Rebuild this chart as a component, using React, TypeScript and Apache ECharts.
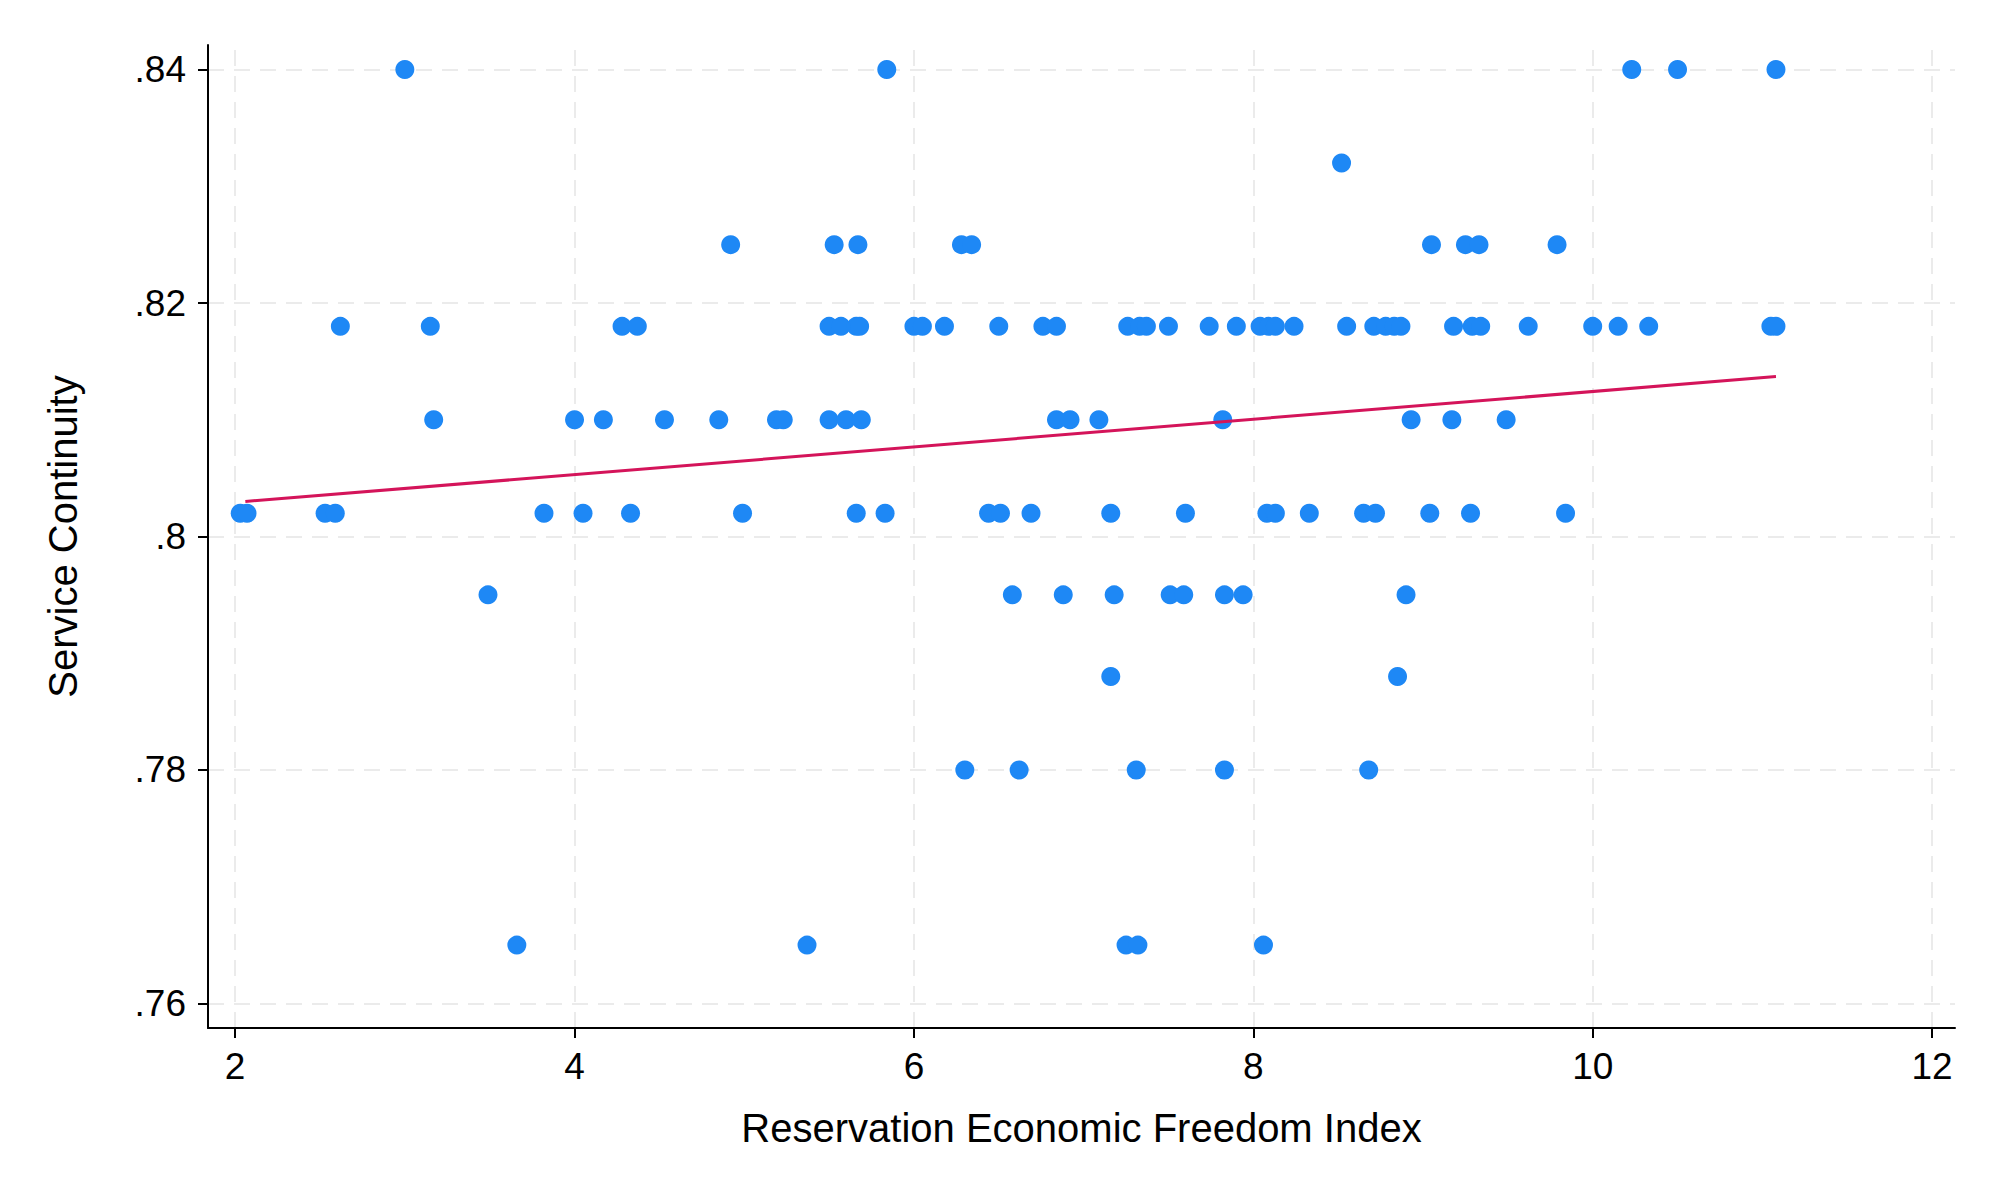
import React, { useEffect, useRef } from 'react';
import * as echarts from 'echarts';

// points grouped by service-continuity level
const lvl840 = [3.0, 5.84, 10.23, 10.5, 11.08];
const lvl832 = [8.52];
const lvl825 = [4.92, 5.53, 5.67, 6.28, 6.34, 9.05, 9.25, 9.33, 9.79];
const lvl818 = [2.62, 3.15, 4.28, 4.37, 5.5, 5.57, 5.66, 5.68, 6.0, 6.05, 6.18, 6.5, 6.76, 6.84, 7.26, 7.33, 7.37, 7.5, 7.74, 7.9, 8.04, 8.09, 8.13, 8.24, 8.55, 8.71, 8.78, 8.83, 8.87, 9.18, 9.29, 9.34, 9.62, 10.0, 10.15, 10.33, 11.05, 11.08];
const lvl810 = [3.17, 4.0, 4.17, 4.53, 4.85, 5.19, 5.23, 5.5, 5.6, 5.69, 6.84, 6.92, 7.09, 7.82, 8.93, 9.17, 9.49];
const lvl802 = [2.03, 2.07, 2.53, 2.59, 3.82, 4.05, 4.33, 4.99, 5.66, 5.83, 6.44, 6.51, 6.69, 7.16, 7.6, 8.08, 8.13, 8.33, 8.65, 8.72, 9.04, 9.28, 9.84];
const lvl795 = [3.49, 6.58, 6.88, 7.18, 7.51, 7.59, 7.83, 7.94, 8.9];
const lvl788 = [7.16, 8.85];
const lvl780 = [6.3, 6.62, 7.31, 7.83, 8.68];
const lvl765 = [3.66, 5.37, 7.25, 7.32, 8.06];

const levels: [number, number[]][] = [
  [0.84, lvl840], [0.832, lvl832], [0.825, lvl825], [0.818, lvl818], [0.81, lvl810],
  [0.802, lvl802], [0.795, lvl795], [0.788, lvl788], [0.78, lvl780], [0.765, lvl765],
];

const fitLine = [[2.06, 0.803], [11.08, 0.8137]];
const xTicks = [2, 4, 6, 8, 10, 12];
const yTicks = [0.76, 0.78, 0.8, 0.82, 0.84];

const App: React.FC = () => {
  const chartRef = useRef<HTMLDivElement | null>(null);

  useEffect(() => {
    document.body.style.margin = '0';
    let chart: echarts.ECharts | null = null;
    if (chartRef.current) {
      chart = echarts.init(chartRef.current, null, { renderer: 'svg' });
      const points: number[][] = [];
      levels.forEach(([y, xs]) => xs.forEach((x) => points.push([x, y])));
      const font = 'Liberation Sans, Arial, sans-serif';
      const gridStyle = { color: '#ebebeb', width: 2, type: [16, 10] as any };

      const option = {
        animation: false,
        backgroundColor: '#fff',
        grid: { left: 208, right: 45, top: 45, bottom: 172 },
        xAxis: {
          type: 'value', min: 1.84, max: 12.135,
          name: 'Reservation Economic Freedom Index', nameLocation: 'middle', nameGap: 80,
          nameTextStyle: { fontSize: 40, color: '#000', fontFamily: font },
          axisLine: { lineStyle: { color: '#000', width: 2 } },
          axisTick: { show: true, customValues: xTicks, length: 10, lineStyle: { color: '#000', width: 2 } },
          axisLabel: { customValues: xTicks, fontSize: 37, color: '#000', margin: 20, fontFamily: font },
          splitLine: { show: false },
        },
        yAxis: {
          type: 'value', min: 0.7579, max: 0.8421,
          name: 'Service Continuity', nameLocation: 'middle', nameGap: 125,
          nameTextStyle: { fontSize: 40, color: '#000', fontFamily: font },
          axisLine: { show: true, lineStyle: { color: '#000', width: 2 } },
          axisTick: { show: true, customValues: yTicks, length: 10, lineStyle: { color: '#000', width: 2 } },
          axisLabel: {
            customValues: yTicks, fontSize: 37, color: '#000', margin: 22, fontFamily: font,
            formatter: (v: number) => v.toFixed(2).replace(/^0/, '').replace(/0$/, ''),
          },
          splitLine: { show: false },
        },
        series: [
          {
            type: 'line', data: [], silent: true, z: 0,
            markLine: {
              symbol: 'none', silent: true, z: 0, label: { show: false }, lineStyle: gridStyle,
              data: [...xTicks.map((x) => ({ xAxis: x })), ...yTicks.map((y) => ({ yAxis: y }))],
            },
          },
          {
            type: 'scatter', data: points, symbolSize: 19, z: 5,
            itemStyle: { color: '#1e88f5', opacity: 1 },
          },
          {
            type: 'line', data: fitLine, symbol: 'none', z: 6,
            lineStyle: { color: '#d4145a', width: 3 },
          },
        ],
      };
      chart.setOption(option);
    }
    return () => {
      chart?.dispose();
    };
  }, []);

  return <div ref={chartRef} style={{ width: 2000, height: 1200 }} />;
};

export default App;
